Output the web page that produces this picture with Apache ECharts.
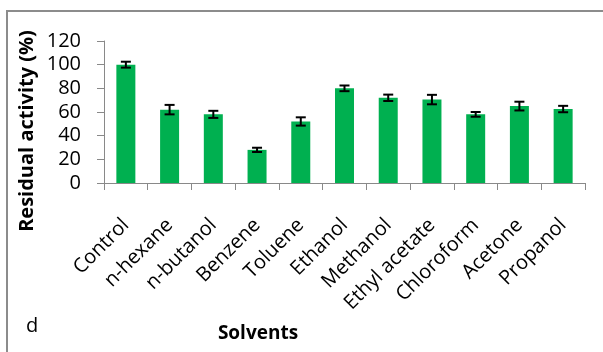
<!DOCTYPE html>
<html>
<head>
<meta charset="utf-8">
<script src="https://cdn.jsdelivr.net/npm/echarts@6/dist/echarts.min.js"></script>
<style>
  html, body { margin: 0; padding: 0; background: #fff; }
  #chart { width: 603px; height: 352px; }
</style>
</head>
<body>
<div id="chart"></div>
<script>
// Residual enzyme activity after solvent treatment
const categories = ['Control', 'n-hexane', 'n-butanol', 'Benzene', 'Toluene', 'Ethanol',
  'Methanol', 'Ethyl acetate', 'Chloroform', 'Acetone', 'Propanol'];
const activity = [100, 62, 58, 28, 52, 80, 72, 70.5, 58, 65, 62.5];
const errors = [2.5, 4, 3, 1.8, 3.5, 2.4, 2.7, 4, 2, 3.7, 2.7];
const yTicks = [0, 20, 40, 60, 80, 100, 120];

const font = '"Open Sans", "Liberation Sans", sans-serif';
const axisGray = '#898989';

const errorData = activity.map((v, i) => [i, v - errors[i], v + errors[i]]);

const chart = echarts.init(document.getElementById('chart'), null, { renderer: 'canvas' });
chart.setOption({
  animation: false,
  backgroundColor: '#fff',
  grid: { left: 104, right: 18, top: 41, bottom: 169, containLabel: false },
  xAxis: {
    type: 'category',
    data: categories,
    boundaryGap: true,
    axisLine: { lineStyle: { color: axisGray, width: 1 } },
    axisTick: { show: true, length: 7, lineStyle: { color: axisGray } },
    axisLabel: {
      rotate: 45, margin: 39, fontFamily: font, fontSize: 20, color: '#000',
      interval: 0
    }
  },
  yAxis: {
    type: 'value',
    min: yTicks[0],
    max: yTicks[yTicks.length - 1],
    interval: 20,
    splitLine: { show: false },
    axisLine: { show: true, lineStyle: { color: axisGray, width: 1 } },
    axisTick: { show: true, length: 7, lineStyle: { color: axisGray } },
    axisLabel: { margin: 23, fontFamily: font, fontSize: 20, color: '#000' }
  },
  series: [
    {
      type: 'bar',
      data: activity,
      barWidth: 19,
      itemStyle: { color: '#00B050' },
      z: 2
    },
    {
      type: 'custom',
      data: errorData,
      z: 3,
      renderItem: function (params, api) {
        const x = api.coord([api.value(0), 0])[0];
        const lo = api.coord([api.value(0), api.value(1)])[1];
        const hi = api.coord([api.value(0), api.value(2)])[1];
        const half = 5;
        const style = { stroke: '#000', lineWidth: 2 };
        return {
          type: 'group',
          children: [
            { type: 'line', shape: { x1: x, y1: hi, x2: x, y2: lo }, style: style },
            { type: 'line', shape: { x1: x - half, y1: hi, x2: x + half, y2: hi }, style: style },
            { type: 'line', shape: { x1: x - half, y1: lo, x2: x + half, y2: lo }, style: style }
          ]
        };
      }
    }
  ],
  graphic: [
    {
      type: 'rect',
      shape: { x: 7, y: 11, width: 620, height: 360 },
      style: { fill: 'none', stroke: '#8c8c8c', lineWidth: 2 },
      silent: true
    },
    {
      type: 'text',
      x: 27, y: 131,
      rotation: Math.PI / 2,
      style: {
        text: 'Residual activity (%)',
        font: 'bold 20px ' + font,
        fill: '#000',
        textAlign: 'center',
        textVerticalAlign: 'middle'
      }
    },
    {
      type: 'text',
      x: 258, y: 334,
      style: {
        text: 'Solvents',
        font: 'bold 19px ' + font,
        fill: '#000',
        textAlign: 'center',
        textVerticalAlign: 'middle'
      }
    },
    {
      type: 'text',
      x: 32, y: 326,
      style: {
        text: 'd',
        font: '20px ' + font,
        fill: '#000',
        textAlign: 'center',
        textVerticalAlign: 'middle'
      }
    }
  ]
});
</script>
</body>
</html>
